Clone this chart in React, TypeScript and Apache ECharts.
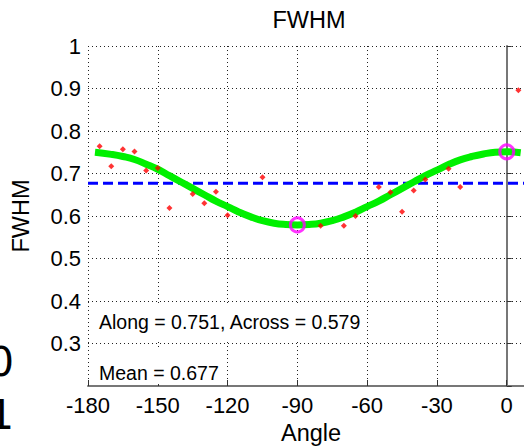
import React, { useEffect, useRef } from 'react';
import * as echarts from 'echarts';

// Axis ranges
const xMin = -180;
const xMax = 10;
const yMin = 0.2;
const yMax = 1;

// Fitted FWHM curve vs angle
const fitAngles = [-177, -170, -165, -160, -155, -150, -145, -140, -135, -130, -125, -120, -115, -110, -105, -100, -95, -90, -85, -80, -75, -70, -65, -60, -55, -50, -45, -40, -35, -30, -25, -20, -15, -10, -5, 0, 6];
const fitValues = [0.750, 0.745, 0.740, 0.733, 0.722, 0.710, 0.695, 0.680, 0.665, 0.650, 0.635, 0.622, 0.609, 0.598, 0.589, 0.583, 0.580, 0.579, 0.580, 0.583, 0.589, 0.598, 0.609, 0.622, 0.635, 0.650, 0.665, 0.680, 0.695, 0.708, 0.721, 0.732, 0.740, 0.746, 0.750, 0.751, 0.749];

// Measured FWHM samples
const sampleAngles = [-175, -170, -165, -160, -155, -150, -145, -135, -130, -125, -120, -105, -80, -70, -65, -55, -50, -45, -40, -35, -25, -20, 5];
const sampleValues = [0.764, 0.717, 0.757, 0.752, 0.707, 0.713, 0.619, 0.652, 0.630, 0.657, 0.602, 0.691, 0.577, 0.577, 0.600, 0.668, 0.656, 0.610, 0.660, 0.686, 0.711, 0.668, 0.896];

// Along / across extremes and the mean
const alongAngle = 0;
const alongValue = 0.751;
const acrossAngle = -90;
const acrossValue = 0.579;
const meanValue = 0.677;

const FONT = '"Liberation Sans", Arial, Helvetica, sans-serif';

export default function App() {
  const ref = useRef<HTMLDivElement>(null);

  useEffect(() => {
    const chart = echarts.init(ref.current!, null, { renderer: 'svg' });
    chart.setOption({
      animation: false,
      backgroundColor: '#ffffff',
      grid: { left: 88, right: 1, top: 46, bottom: 61, containLabel: false },
      xAxis: {
        type: 'value',
        min: xMin,
        max: xMax,
        interval: 30,
        axisLine: { show: true, onZero: false, lineStyle: { color: '#777777', width: 2 } },
        axisTick: { show: true, inside: true, length: 6, lineStyle: { color: '#333333', width: 1 } },
        axisLabel: {
          color: '#000000',
          fontFamily: FONT,
          fontSize: 22,
          margin: 8,
          formatter: (v: number) => (v > 0 ? '' : String(v)),
        },
        splitLine: { show: true, lineStyle: { color: '#222222', width: 1, type: [1, 3] } },
      },
      yAxis: {
        type: 'value',
        min: yMin,
        max: yMax,
        interval: 0.1,
        axisLine: { show: true, lineStyle: { color: '#777777', width: 2 } },
        axisTick: { show: true, inside: true, length: 5, lineStyle: { color: '#333333', width: 1 } },
        axisLabel: {
          color: '#000000',
          fontFamily: FONT,
          fontSize: 22,
          margin: 7,
          formatter: (v: number) => (v < 0.25 ? '' : String(Number(v.toFixed(1)))),
        },
        splitLine: { show: true, lineStyle: { color: '#222222', width: 1, type: [1, 3] } },
      },
      graphic: [
        {
          type: 'text', x: 309, y: 19.5, z: 5,
          style: { text: 'FWHM', fontFamily: FONT, fontSize: 23.5, fill: '#000', align: 'center', verticalAlign: 'middle' },
        },
        {
          type: 'text', x: 311, y: 433, z: 5,
          style: { text: 'Angle', fontFamily: FONT, fontSize: 23.5, fill: '#000', align: 'center', verticalAlign: 'middle' },
        },
        {
          type: 'text', x: 21, y: 216, rotation: Math.PI / 2, z: 5,
          style: { text: 'FWHM', fontFamily: FONT, fontSize: 23.5, fill: '#000', align: 'center', verticalAlign: 'middle' },
        },
        {
          type: 'text', x: 91, y: 303, z: 1,
          style: {
            text: `Along = ${alongValue.toFixed(3)}, Across = ${acrossValue.toFixed(3)}`,
            fontFamily: FONT, fontSize: 19.5, lineHeight: 23, fill: '#000',
            align: 'left', verticalAlign: 'top',
            backgroundColor: '#ffffff', padding: [7, 4, 7, 8],
          },
        },
        {
          type: 'text', x: 91, y: 350, z: 1,
          style: {
            text: `Mean = ${meanValue.toFixed(3)}`,
            fontFamily: FONT, fontSize: 19.5, lineHeight: 23, fill: '#000',
            align: 'left', verticalAlign: 'top',
            backgroundColor: '#ffffff', padding: [11, 4, 0, 8],
          },
        },
        {
          type: 'text', x: -12, y: 382, z: 1,
          style: { text: '0', fontFamily: '"DejaVu Sans", sans-serif', fontSize: 41, fill: '#000', align: 'left', verticalAlign: 'bottom' },
        },
        {
          type: 'text', x: -12, y: 435, z: 1,
          style: { text: '1', fontFamily: '"DejaVu Sans", sans-serif', fontSize: 41, fill: '#000', align: 'left', verticalAlign: 'bottom' },
        },
      ],
      series: [
        {
          name: 'Mean',
          type: 'line',
          data: [[xMin, meanValue], [xMax, meanValue]],
          symbol: 'none',
          lineStyle: { color: '#0000ff', width: 3, type: [10, 5] },
          z: 2,
        },
        {
          name: 'Fit',
          type: 'line',
          data: fitAngles.map((a, i) => [a, fitValues[i]]),
          symbol: 'none',
          smooth: true,
          lineStyle: { color: '#00f000', width: 7 },
          z: 3,
        },
        {
          name: 'Samples',
          type: 'scatter',
          data: sampleAngles.map((a, i) => [a, sampleValues[i]]),
          symbol: 'diamond',
          symbolSize: 6,
          itemStyle: { color: '#ff0000' },
          z: 4,
        },
        {
          name: 'Extremes',
          type: 'scatter',
          data: [[acrossAngle, acrossValue], [alongAngle, alongValue]],
          symbol: 'circle',
          symbolSize: 14,
          itemStyle: { color: 'rgba(0,0,0,0)', borderColor: '#ff00ff', borderWidth: 3 },
          z: 5,
        },
      ],
    });
    return () => chart.dispose();
  }, []);

  return (
    <div style={{ position: 'fixed', left: 0, top: 0, width: 524, height: 447, overflow: 'hidden', background: '#ffffff' }}>
      <div ref={ref} style={{ width: 533, height: 447 }} />
    </div>
  );
}
